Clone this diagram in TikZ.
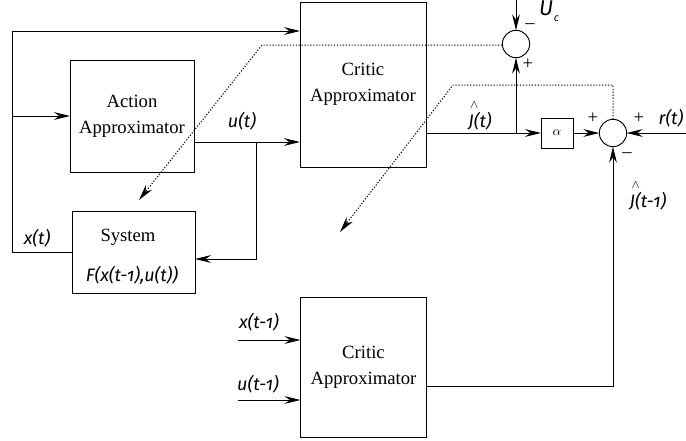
\documentclass[tikz,border=0pt]{standalone}
\usepackage{fontspec}
\setmainfont{Liberation Serif}
\newfontfamily\lblfont[Numbers=OldStyle]{Fira Sans}
\usetikzlibrary{arrows.meta}
\newcommand\lbl[1]{{\lblfont\itshape #1}}
\newcommand\jhat[1]{\lbl{\makebox[0pt][l]{\raisebox{2.0ex}{\kern0.1em\normalfont\small$\wedge$}}J#1}}
\tikzset{
  x=0.75pt, y=-0.75pt,
  every node/.style={inner sep=0pt, outer sep=0pt},
  block/.style={draw, line width=0.7pt, font=\fontsize{14}{19.5}\selectfont, align=center},
  sumnode/.style={draw, circle, line width=0.7pt, minimum size=20.5pt},
  wire/.style={line width=0.7pt},
  tip/.style={-{Stealth[length=12pt,width=5.8pt,inset=4pt]}},
  arr/.style={wire, tip},
  dot/.style={line width=0.75pt, dash pattern=on 0.9pt off 1.3pt},
  darr/.style={dot, -{Stealth[length=12pt,width=5.8pt,inset=4pt,line width=0.6pt]}},
  tag/.style={font=\fontsize{13.5}{15}\selectfont},
  sign/.style={font=\fontsize{14}{15}\selectfont},
}
\begin{document}
\begin{tikzpicture}
\useasboundingbox (0,0) rectangle (686,440);

% blocks
\node[block, minimum width=93pt, minimum height=84pt] (act) at (132,116) {Action\\Approximator};
\node[block, minimum width=92.25pt, minimum height=61.5pt] (sys) at (133.5,252) {};
\node[font=\fontsize{14}{15}\selectfont] (sysT) at (128,237) {System};
\node[tag] (sysF) at (132,275) {\lbl{F(x(t-1),u(t))}};
\node[block, minimum width=94.5pt, minimum height=123.75pt] (crit1) at (363,84.5) {Critic\\Approximator};
\node[block, minimum width=94.5pt, minimum height=105pt] (crit2) at (363.5,367) {Critic\\Approximator};
\node[block, minimum width=24pt, minimum height=22.5pt, font=\normalsize] (alpha) at (557,133) {$\alpha$};
\node[sumnode] (sum1) at (516,44) {};
\node[sumnode] (sum2) at (613,133) {};

% branch and corner points
\coordinate (lt) at (12,31);
\coordinate (uo) at (256,142);
\coordinate (ub) at (256,259);
\coordinate (jb) at (516,133);
\coordinate (jc) at (613,386);
\coordinate (uc) at (516,0);
\coordinate (rin) at (686,133);
\coordinate (xin) at (238,340);
\coordinate (uin) at (238,400);
\coordinate (d1) at (262,45);
\coordinate (d1e) at (139,200);
\coordinate (d2a) at (613,85);
\coordinate (d2b) at (453,85);
\coordinate (d2e) at (340,232);

% state feedback loop
\draw[arr] (sys.west) -| (lt) -- (lt -| crit1.west);
\draw[arr] (lt |- act.west) -- (act.west);
% control signal
\draw[arr] (uo -| act.east) -- (uo -| crit1.west);
\draw[arr] (uo) -- (ub) -- (ub -| sys.east);
% critic outputs
\draw[arr] (jb -| crit1.east) -- (alpha.west);
\draw[arr] (jb) -- (sum1.south);
\draw[arr] (alpha.east) -- (sum2.west);
\draw[arr] (rin) -- (sum2.east);
\draw[arr] (uc) -- (sum1.north);
\draw[arr] (jc -| crit2.east) -- (jc) -- (sum2.south);
\draw[arr] (xin) -- (xin -| crit2.west);
\draw[arr] (uin) -- (uin -| crit2.west);

% error paths used for training
\draw[darr] (sum1.west |- d1) -- (d1) -- (d1e);
\draw[darr] (sum2.north) -- (d2a) -- (d2b) -- (d2e);

% labels
\node[tag] (lx) at (37,238) {\lbl{x(t)}};
\node[tag] (lu) at (242,121) {\lbl{u(t)}};
\node[tag] (lj) at (480,116) {\jhat{(t)}};
\node[tag] (lj1) at (648,196) {\jhat{(t-1)}};
\node[tag] (lr) at (671,118) {\lbl{r(t)}};
\node[font=\fontsize{16}{17}\selectfont] (luc) at (549,11) {\lbl{U\kern0.5pt\raisebox{-0.5ex}{\footnotesize c}}};
\node[tag] (lx1) at (259,322) {\lbl{x(t-1)}};
\node[tag] (lu1) at (258,384) {\lbl{u(t-1)}};
\node[sign] (s1m) at (530,26) {--};
\node[sign] (s1p) at (528,64) {+};
\node[sign] (s2l) at (593,118) {+};
\node[sign] (s2r) at (639,118) {+};
\node[sign] (s2m) at (627,155) {--};
\end{tikzpicture}
\end{document}
